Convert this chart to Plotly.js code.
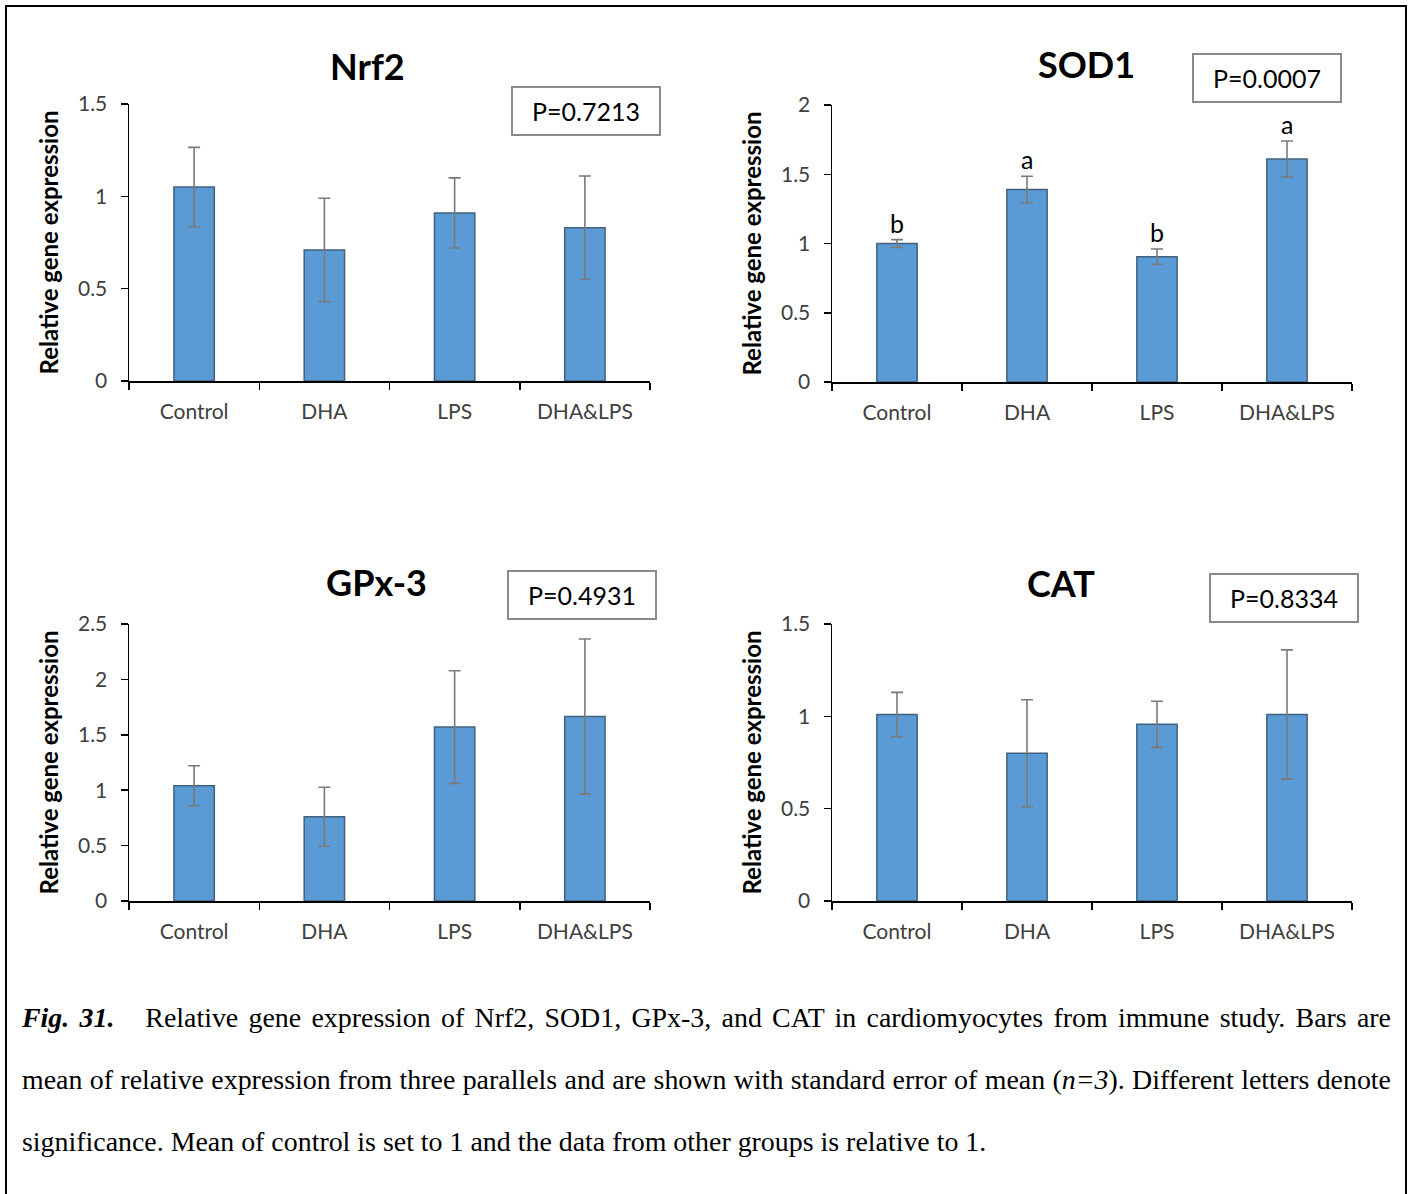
<!DOCTYPE html>
<html>
<head>
<meta charset="utf-8">
<script src="https://cdn.plot.ly/plotly-3.0.1.min.js"></script>
<style>
  html, body { margin: 0; padding: 0; background: #fff; }
  #wrap { position: relative; width: 1413px; height: 1194px; overflow: hidden; }
  #chart { position: absolute; left: 0; top: 0; width: 1413px; height: 1194px; }
  #caption { position: absolute; left: 22px; top: 987px; width: 1369px;
    font-family: "Liberation Serif", "Times New Roman", serif; font-size: 27.9px; line-height: 62px; color: #000; }
  #caption .j { text-align: justify; text-align-last: justify; white-space: nowrap; }
  #caption .l { text-align: left; }
</style>
</head>
<body>
<div id="wrap">
  <div id="chart"></div>
  <div id="caption">
    <div class="j"><b><i>Fig. 31.</i></b>&nbsp;&nbsp; Relative gene expression of Nrf2, SOD1, GPx-3, and CAT in cardiomyocytes from immune study. Bars are</div>
    <div class="j">mean of relative expression from three parallels and are shown with standard error of mean (<i>n=3</i>). Different letters denote</div>
    <div class="l">significance. Mean of control is set to 1 and the data from other groups is relative to 1.</div>
  </div>
</div>
<script>
// ---- data ----
const categories = ["Control", "DHA", "LPS", "DHA&LPS"];

const nrf2Mean = [1.05, 0.71, 0.91, 0.83];
const nrf2Err  = [0.215, 0.28, 0.19, 0.28];

const sod1Mean = [1.00, 1.39, 0.905, 1.61];
const sod1Err  = [0.028, 0.096, 0.055, 0.13];
const sod1Letters = ["b", "a", "b", "a"];

const gpx3Mean = [1.04, 0.76, 1.57, 1.665];
const gpx3Err  = [0.18, 0.266, 0.508, 0.70];

const catMean = [1.01, 0.80, 0.957, 1.01];
const catErr  = [0.12, 0.29, 0.125, 0.35];

const panelTitles = ["Nrf2", "SOD1", "GPx-3", "CAT"];
const pValues = ["P=0.7213", "P=0.0007", "P=0.4931", "P=0.8334"];
const yTitle = "Relative gene expression";

// ---- layout helpers ----
const W = 1413, H = 1194;
const px = v => v / W;
const py = v => 1 - v / H;

const panels = [
  {mean: nrf2Mean, err: nrf2Err, x0: 129, x1: 650, yb: 381, yt: 104, range: [0, 1.5], dtick: 0.5,
   title: {x: 368, y: 66}, box: {x: 586, y: 111}},
  {mean: sod1Mean, err: sod1Err, x0: 832, x1: 1352, yb: 382, yt: 105, range: [0, 2], dtick: 0.5,
   title: {x: 1086, y: 64}, box: {x: 1267, y: 78}, letters: sod1Letters},
  {mean: gpx3Mean, err: gpx3Err, x0: 129, x1: 650, yb: 901, yt: 624, range: [0, 2.5], dtick: 0.5,
   title: {x: 376, y: 582}, box: {x: 582, y: 595}},
  {mean: catMean, err: catErr, x0: 832, x1: 1352, yb: 901, yt: 624, range: [0, 1.5], dtick: 0.5,
   title: {x: 1061, y: 583}, box: {x: 1284, y: 598}}
];

const fam = "Lato, 'Open Sans', sans-serif";
const tickFont = {family: fam, size: 21, color: "#404040"};
const traces = [];
const layout = {
  width: W, height: H,
  margin: {l: 0, r: 0, t: 0, b: 0},
  paper_bgcolor: "rgba(0,0,0,0)", plot_bgcolor: "rgba(0,0,0,0)",
  showlegend: false,
  bargap: 0.69,
  annotations: [],
  shapes: [
    {type: "rect", xref: "paper", yref: "paper", x0: px(6), x1: px(1406), y0: -0.05, y1: py(6),
     line: {color: "#000", width: 2}, fillcolor: "rgba(0,0,0,0)"}
  ]
};

panels.forEach((p, i) => {
  const n = i + 1;
  const xa = n === 1 ? "x" : "x" + n;
  const ya = n === 1 ? "y" : "y" + n;
  traces.push({
    type: "bar", x: categories, y: p.mean, xaxis: xa, yaxis: ya,
    marker: {color: "#5B9BD5", line: {color: "#41607e", width: 1.5}},
    error_y: {type: "data", array: p.err, visible: true, color: "#7a7a7a", thickness: 1.6, width: 6},
    hoverinfo: "none"
  });
  const xkey = n === 1 ? "xaxis" : "xaxis" + n;
  const ykey = n === 1 ? "yaxis" : "yaxis" + n;
  layout[xkey] = {
    domain: [px(p.x0), px(p.x1)], anchor: ya, type: "category", range: [-0.5, 3.5],
    showline: true, linecolor: "#000", linewidth: 1.5, ticks: "outside", tickson: "boundaries",
    ticklen: 7, tickcolor: "#000", tickwidth: 1.5, showgrid: false, zeroline: false,
    tickfont: tickFont, ticklabelstandoff: 11, fixedrange: true
  };
  layout[ykey] = {
    domain: [py(p.yb), py(p.yt)], anchor: xa, range: p.range, dtick: p.dtick, tick0: 0,
    showline: true, linecolor: "#000", linewidth: 1.5, ticks: "outside", ticklen: 7,
    tickcolor: "#000", tickwidth: 1.5, showgrid: false, zeroline: false,
    tickfont: tickFont, ticklabelstandoff: 9, fixedrange: true,
    title: {text: yTitle, font: {family: fam, size: 24, color: "#000", weight: "bold"}, standoff: 12}
  };
  layout.annotations.push({
    xref: "paper", yref: "paper", x: px(p.title.x), y: py(p.title.y), xanchor: "center", yanchor: "middle",
    text: "<b>" + panelTitles[i] + "</b>", showarrow: false,
    font: {family: fam, size: 36, color: "#000"}
  });
  layout.annotations.push({
    xref: "paper", yref: "paper", x: px(p.box.x), y: py(p.box.y), xanchor: "center", yanchor: "middle",
    text: pValues[i], showarrow: false, width: 146, height: 46,
    bordercolor: "#8a8a8a", borderwidth: 2, borderpad: 0, bgcolor: "#fff",
    font: {family: fam, size: 25, color: "#000"}
  });
  if (p.letters) {
    p.letters.forEach((L, k) => {
      layout.annotations.push({
        xref: xa, yref: ya, x: categories[k], y: p.mean[k] + p.err[k], yanchor: "bottom",
        text: L, showarrow: false, yshift: 0,
        font: {family: fam, size: 25, color: "#000"}
      });
    });
  }
});

Plotly.newPlot("chart", traces, layout, {staticPlot: true, displayModeBar: false});
</script>
</body>
</html>
